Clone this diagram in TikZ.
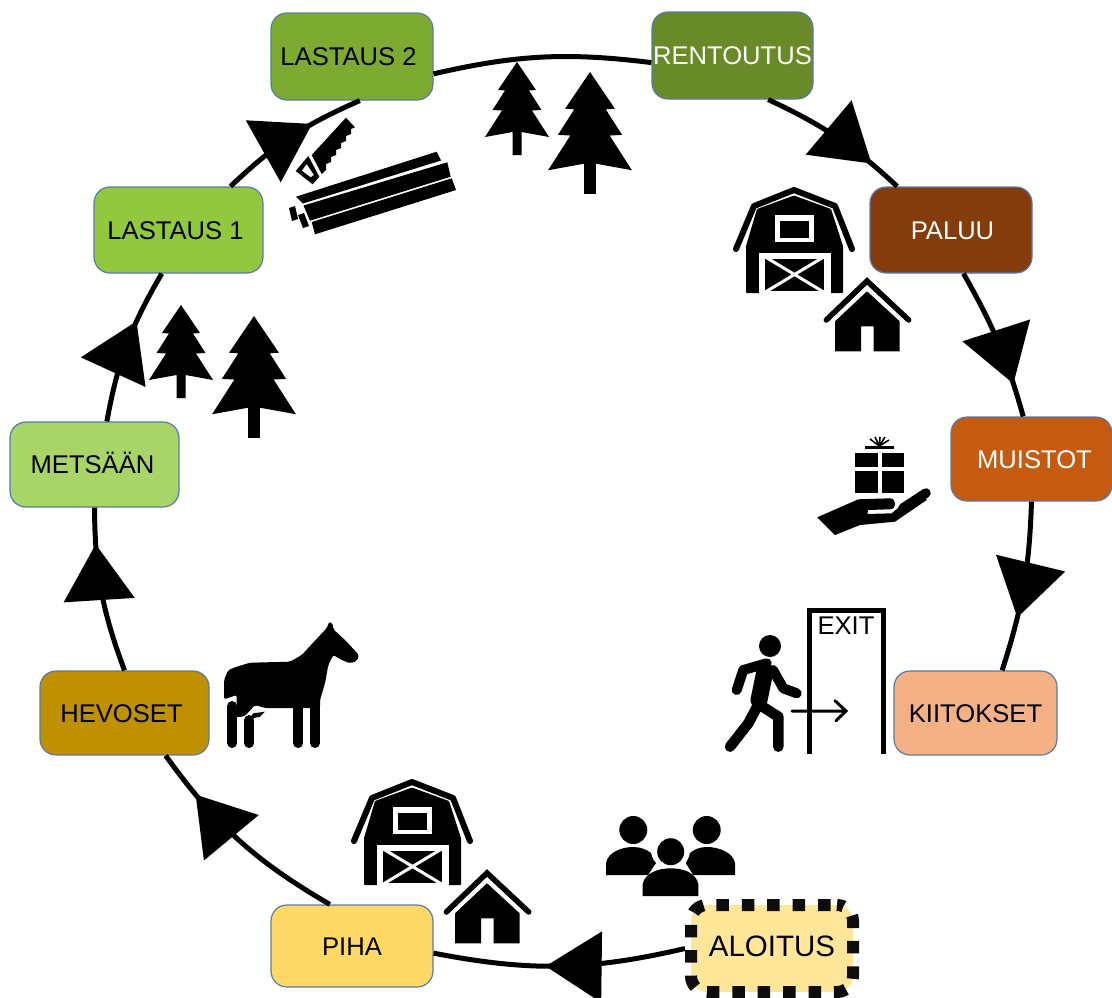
\documentclass[tikz,border=0pt]{standalone}
\usepackage{fontspec}
\setmainfont{Liberation Sans}
\usetikzlibrary{arrows.meta,decorations.markings}
\definecolor{boxedge}{HTML}{5B7BA6}
\definecolor{colaloitus}{HTML}{FFE699}
\definecolor{colpiha}{HTML}{FFD966}
\definecolor{colhevoset}{HTML}{BF9000}
\definecolor{colmetsaan}{HTML}{A9D468}
\definecolor{collastausa}{HTML}{92C83E}
\definecolor{collastausb}{HTML}{7DAA30}
\definecolor{colrentoutus}{HTML}{688A28}
\definecolor{colpaluu}{HTML}{843C0C}
\definecolor{colmuistot}{HTML}{C55A11}
\definecolor{colkiitokset}{HTML}{F4B183}
\tikzset{
	stagebox/.style={draw=boxedge, line width=1.2pt, rounded corners=16pt, inner sep=0pt, text height=18.4pt, text depth=0pt, font=\fontsize{25.6}{30}\selectfont},
	ring/.style={line width=5pt},
	flow/.style={ring, postaction={decorate}, decoration={markings, mark=at position #1 with {\arrow{Triangle[length=56pt,width=70pt]}}}}
}
\def\treeicon[#1](#2){\begin{scope}[shift={(#2)},scale=#1]
	\fill (0,0) -- (19,28) -- (12,28.5) -- (24.5,48) -- (15,48.5) -- (32,75) -- (4.5,70) -- (4.5,93) -- (-4.5,93) -- (-4.5,70) -- (-32,75) -- (-15,48.5) -- (-24.5,48) -- (-12,28.5) -- (-19,28) -- cycle;
\end{scope}}
\def\barnicon(#1){\begin{scope}[shift={(#1)}]
	\draw[line width=6pt, line cap=round, line join=round] (-58,60) -- (-40,17) -- (0,1) -- (41,17) -- (58,60);
	\fill[rounded corners=1pt] (-48,104) -- (-48,57) -- (-37,20) -- (0,6.5) -- (37,20) -- (49,57) -- (49,104) -- cycle;
	\fill[white] (-19.5,26) rectangle (20,53);
	\fill (-14,31.5) rectangle (15,48.5);
	\fill[white] (-35,63.5) rectangle (37,104.5);
	\fill (-29,69.5) rectangle (30,102);
	\draw[white, line width=3pt] (-32,66) -- (33,105) (33,66) -- (-32,105);
\end{scope}}
\def\houseicon(#1){\begin{scope}[shift={(#1)}]
	\draw[line width=5.5pt, line cap=round, line join=miter] (-40.7,42) -- (0,3) -- (41.7,42);
	\fill (-32,43.3) -- (0,13.3) -- (32.7,43.3) -- (32.7,73.3) -- (6.7,73.3) -- (6.7,48.3) -- (-6,48.3) -- (-6,73.3) -- (-32,73.3) -- cycle;
\end{scope}}
\begin{document}
\begin{tikzpicture}[x=1pt, y=-1pt]
	\useasboundingbox (0,0) rectangle (1112,997);
	%%%%% NODES %%%%%

	\node[stagebox, fill=colaloitus, draw=black!95, line width=12pt, dash pattern=on 12.5pt off 12.9pt, dash phase=18.9pt, text height=21pt, text depth=6pt, font=\fontsize{29.5}{34}\selectfont, minimum width=162pt, minimum height=87pt] (aloitus) at (772, 948.5) {ALOITUS};
	\node[stagebox, fill=colpiha, minimum width=162pt, minimum height=82pt] (piha) at (352, 946) {PIHA};
	\node[stagebox, fill=colhevoset, minimum width=169pt, minimum height=84pt] (hevoset) at (124.5, 713) {HEVOSET\kern6pt};
	\node[stagebox, fill=colmetsaan, minimum width=169pt, minimum height=85pt] (metsaan) at (94.5, 464.5) {METSÄÄN\kern4pt};
	\node[stagebox, fill=collastausa, minimum width=169pt, minimum height=86pt] (lastausa) at (178.5, 230) {LASTAUS 1\kern6pt};
	\node[stagebox, fill=collastausb, minimum width=162pt, minimum height=87pt] (lastausb) at (352, 56.5) {LASTAUS 2\kern7pt};
	\node[stagebox, fill=colrentoutus, text=white, minimum width=161pt, minimum height=87pt] (rentoutus) at (732.5, 55.5) {RENTOUTUS};
	\node[stagebox, fill=colpaluu, text=white, minimum width=162pt, minimum height=86pt] (paluu) at (951, 230) {\kern3pt PALUU};
	\node[stagebox, fill=colmuistot, text=white, minimum width=161pt, minimum height=84pt] (muistot) at (1031.5, 459) {\kern6pt MUISTOT};
	\node[stagebox, fill=colkiitokset, minimum width=163pt, minimum height=84pt] (kiitokset) at (975.5, 713) {KIITOKSET};

	%%%%% RING %%%%%

	\draw[flow=0.555] (aloitus.west) to[bend left=12] (piha.-5);
	\draw[flow=0.78] (piha.118) to[bend left=12] (hevoset.-46);
	\draw[flow=0.78] (hevoset.north) to[bend left=10] (metsaan.south);
	\draw[flow=0.66] (metsaan.74) to[bend left=10] (lastausa.-111);
	\draw[flow=0.66] (lastausa.40) to[bend left=10] (lastausb.-80);
	\draw[ring] (lastausb.-12) to[bend left=10] (rentoutus.-175);
	\draw[flow=0.78] (rentoutus.-51) to[bend left=9] (paluu.141);
	\draw[flow=0.78] (paluu.-74) to[bend left=7] (muistot.101);
	\draw[flow=0.68] (muistot.south) to[bend left=8] (kiitokset.58);

	%%%%% ICONS %%%%%

	\treeicon[1](517, 62)
	\treeicon[1.31](590, 72)
	\treeicon[1](181, 305)
	\treeicon[1.31](254, 316)

	\barnicon(794, 189)
	\houseicon(867, 278)
	\barnicon(412, 781)
	\houseicon(487, 870)

	% logs and saw
	\fill (296, 196.7) -- (436.7, 151.7) -- (441, 160.5) -- (303, 203.5) -- cycle;
	\fill (303.5, 205.5) -- (447.3, 162.3) -- (450.7, 176.7) -- (310, 220.7) -- cycle;
	\fill (311.7, 222) -- (451.7, 178.3) -- (456, 190) -- (315, 234.3) -- cycle;
	\fill (289, 208) -- (295, 206) -- (298, 219) -- (292, 221) -- cycle;
	\fill (298, 215) -- (304, 213) -- (309, 226) -- (303, 228) -- cycle;
	\fill (346, 117.7) -- (355, 127.3) -- (351, 129) -- (351, 134) -- (346, 136) -- (346, 141) -- (341, 143) -- (341, 148) -- (336, 150) -- (336, 155) -- (331, 157) -- (331, 162) -- (326, 164) -- (326, 170) -- (321.7, 174) -- (311.7, 155) -- cycle;
	\fill[even odd rule] (308.3, 156) -- (319.3, 176.7) -- (312.7, 184.3) -- (295.7, 171) -- cycle (306.7, 164) -- (314, 175) -- (310.7, 177.3) -- (301.7, 170.7) -- cycle;

	% gift on hand
	\fill (855, 452.7) rectangle (877.7, 467.3);
	\fill (882, 452.7) rectangle (904, 467.3);
	\fill (855, 470.7) rectangle (877.7, 493.3);
	\fill (882, 470.7) rectangle (904, 493.3);
	\fill (865, 446) rectangle (894, 449.3);
	\draw[line width=1.6pt] (879.3, 446) -- (870, 439) (879.3, 446) -- (875, 437) (879.3, 446) -- (880, 437) (879.3, 446) -- (885, 437) (879.3, 446) -- (889, 440);
	\fill (817.3, 517.3) -- (858.3, 499.3) -- (890, 498.3) to[out=0, in=0, looseness=1.6] (890, 509.3) -- (868.3, 510) -- (867.3, 514) -- (891.7, 513.3) -- (901.7, 505) -- (923.3, 489.3) -- (926.7, 500) -- (895, 521.7) -- (860, 525) -- (835, 535) -- cycle;
	\draw[line width=9.5pt, line cap=round] (903, 508) -- (926, 493);

	% exit door
	\draw[line width=5pt] (809, 754) -- (809, 610.5) -- (883.5, 610.5) -- (883.5, 754);
	\node[font=\fontsize{25.6}{30}\selectfont, inner sep=0pt] (exitlabel) at (846, 626) {EXIT};
	\draw[line width=3pt, line cap=round] (792, 711) -- (845, 711) (835, 700.7) -- (846, 711) -- (836, 720.7);
	\fill (770, 646) circle (11);
	\draw[line width=10pt, line cap=round, line join=round] (736.7, 690) -- (743.3, 670) -- (766.7, 663.3) (773, 670) -- (783.3, 688.3) -- (796.7, 693.3);
	\draw[line width=17pt, line cap=round] (765, 671) -- (759, 700);
	\draw[line width=10.5pt, line cap=round, line join=round] (757, 707) -- (748.3, 723.3) -- (730, 746.7) (760, 705) -- (778.3, 716.7) -- (778.3, 746.7);

	% group of people
	\fill (633.3, 830) circle (14);
	\fill (706.7, 830) circle (14);
	\fill (606, 875) -- (606, 863) .. controls (608, 852) and (622, 847) .. (633, 847) .. controls (640, 847) and (646, 849) .. (651, 853) .. controls (652, 858) and (654, 861) .. (656, 863) -- (648, 875) -- cycle;
	\fill (735, 875) -- (735, 863) .. controls (733, 852) and (718, 847) .. (707, 847) .. controls (700, 847) and (695, 849) .. (690, 853) .. controls (689, 858) and (687, 861) .. (685.7, 863) -- (693.3, 875) -- cycle;
	\fill (670.7, 851.7) circle (13.5);
	\fill (642.7, 896) -- (642.7, 884) .. controls (645, 873) and (658, 868.3) .. (670.7, 868.3) .. controls (684, 868.3) and (696, 873) .. (698.3, 884) -- (698.3, 896) -- cycle;

	% horse
	\fill[rounded corners=2pt] (224, 699.3) -- (224, 680) -- (228.3, 670) -- (236.7, 666.7) -- (250, 662.7) -- (290, 661.7) -- (301.7, 655) -- (323.3, 631.7) -- (326.7, 628.3) -- (329.3, 621.7) -- (332.7, 623.3) -- (333.3, 629.3) -- (345, 640) -- (359, 655) -- (357, 661) -- (350, 663.3) -- (341.7, 660) -- (333.3, 655) -- (328.3, 665) -- (325, 683.3) -- (320, 700) -- (320, 708) -- (265, 708) -- (255, 705) -- (245, 716) -- (236.7, 717.5) -- (236.7, 695) -- cycle;
	\fill (253.3, 713.3) -- (265, 711.7) -- (260, 716.7) -- (249, 719) -- cycle;
	\draw[line width=10pt, line cap=round] (232.3, 706) -- (232.3, 743) (249.3, 720) -- (249.3, 743) (298.3, 704) -- (298.3, 743) (315, 702) -- (315, 743);
\end{tikzpicture}
\end{document}
